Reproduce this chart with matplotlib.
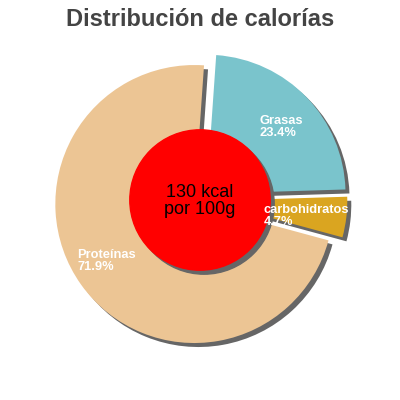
import matplotlib
matplotlib.use("Agg")
import matplotlib.pyplot as plt
from matplotlib.patches import Circle

labels = ["Grasas", "carbohidratos", "Proteínas"]
values = [23.4, 4.7, 71.9]
colors = ["#7ac4cc", "#daa520", "#ecc594"]
explode = [0.065, 0.06, 0.05]
center_text = "130 kcal\npor 100g"
title = "Distribución de calorías"

R_PX = 139.0
def px(x, y):
    return ((x - 200) / R_PX, (200 - y) / R_PX)

fig = plt.figure(figsize=(4, 4), dpi=100)
ax = fig.add_axes([0, 0, 1, 1])
half = 200 / R_PX

sh = 4 / R_PX
# shadow
ax.pie(values, explode=explode, startangle=86, counterclock=False,
       colors=["#666666"] * len(values), center=(sh, -sh), radius=1.0,
       wedgeprops=dict(linewidth=0), frame=True)
ax.pie(values, explode=explode, startangle=86, counterclock=False,
       colors=colors, center=(0, 0), radius=1.0,
       wedgeprops=dict(linewidth=0), frame=True)
ax.set_xlim(-half, half)
ax.set_ylim(-half, half)
ax.set_aspect("equal")
ax.axis("off")

ax.add_patch(Circle((sh, -sh), 0.505, color="#666666", zorder=5))
ax.add_patch(Circle((0, 0), 0.505, color="#ff0000", zorder=6))
ax.text(0, -0.01, center_text, ha="center", va="center", fontsize=13,
        family="Liberation Sans", color="black", linespacing=1.0, zorder=7)

pcts = [f"{v:.1f}%" for v in values]
label_pos = [px(259, 127), px(264, 216), px(77, 261)]
for lab, p, pos in zip(labels, pcts, label_pos):
    ax.text(pos[0], pos[1], f"{lab}\n{p}", ha="left", va="center",
            fontsize=9.3, fontweight="bold", family="Liberation Sans",
            color="white", linespacing=0.9, zorder=8)

fig.text(0.5, 1 - 20 / 400, title, ha="center", va="center", fontsize=17,
         fontweight="bold", family="Liberation Sans", color="#444444")

fig.savefig("out.png", dpi=100)
